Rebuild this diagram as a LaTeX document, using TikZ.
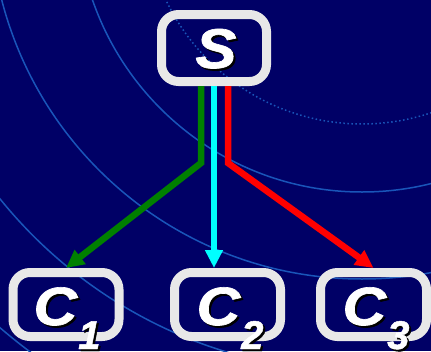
\documentclass[tikz,border=0pt]{standalone}
\usepackage{fontspec}
\setmainfont{Liberation Sans}[BoldItalicFeatures={FakeBold=1.2}]
\usetikzlibrary{arrows.meta}
\definecolor{navy}{RGB}{0,0,102}
\definecolor{arcblue}{RGB}{25,85,185}
\definecolor{boxgrey}{RGB}{232,232,232}
\definecolor{arrgreen}{RGB}{0,128,0}
\definecolor{arrcyan}{RGB}{0,255,255}
\definecolor{arrred}{RGB}{255,0,0}
\newcommand\shd[1]{\makebox[0pt][l]{\hspace{2pt}\raisebox{-2pt}{\color{black}#1}}{\color{white}#1}}
\newcommand\Csub[1]{\scalebox{1.12}[1]{C}\kern1pt\raisebox{-24pt}{\fontsize{40}{40}\selectfont #1}}
\begin{document}
\begin{tikzpicture}[x=1pt,y=-1pt,
  box/.style={draw=boxgrey, line width=9pt, rounded corners=17pt, minimum width=106pt, minimum height=64pt, inner sep=0pt},
  lbl/.style={inner sep=0pt, anchor=base},
  bgarc/.style={draw=arcblue, line width=1.5pt},
  link/.style={line width=6.5pt, -{Triangle[length=18pt,width=17pt]}}
]
\useasboundingbox (0,0) rectangle (431,351);
\fill[navy] (0,0) rectangle (431,351);
\begin{scope}
\clip (0,0) rectangle (431,351);
\coordinate (ctr) at (362,-93);
\draw[bgarc, dash pattern=on 1.5pt off 2.5pt] (ctr) circle[radius=217pt];
\foreach \r in {285,372,465,555} \draw[bgarc] (ctr) circle[radius=\r pt];
\end{scope}
\node[box, minimum width=105pt, minimum height=67pt] (s) at (214,48) {};
\node[box] (c1) at (66,304.5) {};
\node[box] (c2) at (227.5,304.5) {};
\node[box] (c3) at (373.5,304.5) {};
\coordinate (gb) at (201,163);
\coordinate (rb) at (228,163);
\draw[link, arrgreen] ([xshift=-13pt]s.south) -- (gb) -- (c1.north);
\draw[link, arrcyan] (s.south) -- ([xshift=-13.5pt]c2.north);
\draw[link, arrred] ([xshift=14pt]s.south) -- (rb) -- (c3.north);
\node[lbl, font=\bfseries\itshape\fontsize{56}{56}\selectfont] (st) at (216,68) {\shd{\scalebox{1.1}[1]{S}}};
\node[lbl, font=\bfseries\itshape\fontsize{54}{54}\selectfont] (c1t) at (67,325) {\shd{\Csub{1}}};
\node[lbl, font=\bfseries\itshape\fontsize{54}{54}\selectfont] (c2t) at (230,325) {\shd{\Csub{2}}};
\node[lbl, font=\bfseries\itshape\fontsize{54}{54}\selectfont] (c3t) at (376,325) {\shd{\Csub{3}}};
\end{tikzpicture}
\end{document}
